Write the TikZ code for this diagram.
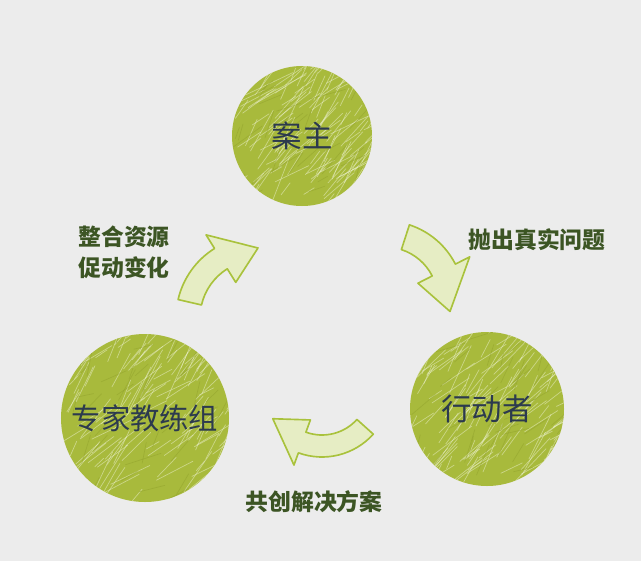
\documentclass[tikz,border=0pt]{standalone}
\usepackage{fontspec}
\newfontfamily\cjk{Noto Sans CJK SC}
\usepackage{tikz}
\usetikzlibrary{calc}
\definecolor{bggray}{HTML}{ECECEC}
\definecolor{ballgreen}{HTML}{A8BA3C}
\definecolor{balldark}{HTML}{8E9F2A}
\definecolor{balllight}{HTML}{EEF2D2}
\definecolor{arrowfill}{HTML}{E6EDC4}
\definecolor{arrowedge}{HTML}{A9C23C}
\definecolor{tagcolor}{HTML}{3C5524}
\definecolor{namecolor}{HTML}{2C3A4E}
\tikzset{
ball/.style={
  circle,
  fill=ballgreen,
  inner sep=0pt
},
ballname/.style={
  text=namecolor,
  font=\cjk\fontsize{26}{30}\selectfont
},
tag/.style={
  align=center,
  text=tagcolor,
  font=\cjk\bfseries\fontsize{19.5}{26.5}\selectfont
},
scribble/.style={balllight,opacity=.5,line width=.6pt,line cap=round},
darkscribble/.style={balldark,opacity=.45,line width=.6pt,line cap=round},
bigarrow/.style={fill=arrowfill,draw=arrowedge,line width=1.4pt,line join=round}
}
% curved arrow: center, radius, half width, half head, tail angle, head angle, tip angle
\newcommand{\bentarrow}[7]{%
  \filldraw[bigarrow,shift={(#1)}]
    ({#5}:{#2+#3}) arc[start angle=#5, end angle=#6, radius={#2+#3}]
    -- ({#6}:{#2+#4}) -- ({#7}:{#2}) -- ({#6}:{#2-#4}) -- ({#6}:{#2-#3})
    arc[start angle=#6, end angle=#5, radius={#2-#3}] -- cycle;}

\begin{document}
\begin{tikzpicture}[x=0.03cm,y=-0.03cm]
\fill[bggray] (0,0) rectangle (641,561);
\useasboundingbox (0,0) rectangle (641,561);
\pgfmathsetseed{11}
% the balls
\node[ball,minimum size=4.2cm] (owner) at (302,136) {};
\node[ball,minimum size=5.04cm] (experts) at (145,418) {};
\node[ball,minimum size=4.62cm] (actors) at (487,409) {};
\foreach \b/\r in {owner/70,experts/84,actors/77}
{
  \begin{scope}
    \clip (\b.center) circle (\r);
    \foreach \k in {1,...,150}
    {
      \pgfmathsetmacro\ax{rnd*2*\r-\r}
      \pgfmathsetmacro\ay{rnd*2*\r-\r}
      \pgfmathsetmacro\ang{-25-rnd*45}
      \pgfmathsetmacro\len{12+rnd*40}
      \draw[scribble] ($(\b.center)+(\ax,\ay)$) -- ++(\ang:\len);
    }
    \foreach \k in {1,...,40}
    {
      \pgfmathsetmacro\ax{rnd*2*\r-\r}
      \pgfmathsetmacro\ay{rnd*2*\r-\r}
      \pgfmathsetmacro\ang{-10-rnd*70}
      \pgfmathsetmacro\len{10+rnd*30}
      \draw[darkscribble] ($(\b.center)+(\ax,\ay)$) -- ++(\ang:\len);
    }
  \end{scope}
}
\node[ballname] (ownername) at (owner) {案主};
\node[ballname,font=\cjk\fontsize{25}{30}\selectfont] (expertsname) at (experts) {专家教练组};
\node[ballname] (actorsname) at (actors) {行动者};
% the labels
\node[tag] (merge) at (124,252) {整合资源\\促动变化};
\node[tag] (raise) at (537,240) {抛出真实问题};
\node[tag] (cocreate) at (314,502) {共创解决方案};
% the arrows
\coordinate (arrA) at (258,318);
\coordinate (arrB) at (385,300);
\coordinate (arrC) at (322,388);
\bentarrow{arrA}{70}{12}{28}{193}{238}{270}
\bentarrow{arrB}{66}{13}{29}{288}{333}{370}
\bentarrow{arrC}{58}{11}{24}{42}{110}{148}
\end{tikzpicture}
\end{document}
